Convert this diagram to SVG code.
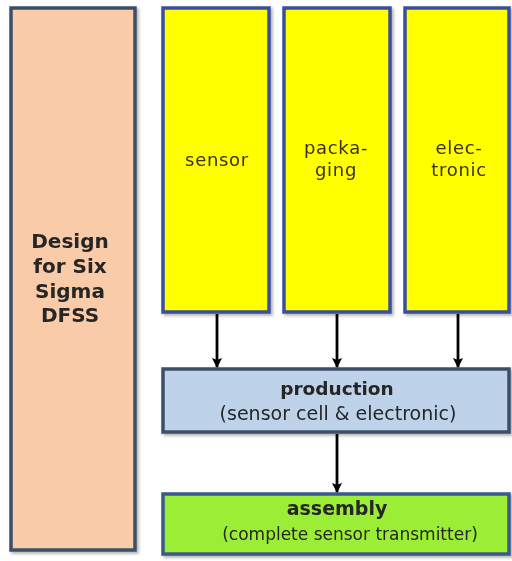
<svg xmlns="http://www.w3.org/2000/svg" width="512" height="561" viewBox="0 0 512 561">
<defs>
<style>
.box{stroke-width:3.5}
.t{font-family:"DejaVu Sans",Verdana,sans-serif;fill:#262626;text-anchor:middle}
.y{font-size:18px;letter-spacing:0.7px;fill:#3a3212}
.b{font-weight:bold}
.c{stroke:#000;stroke-width:2.8;fill:none;marker-end:url(#ah)}
</style>
<marker id="ah" viewBox="0 0 10 10" refX="9" refY="5" markerWidth="3.6" markerHeight="4.4" orient="auto" markerUnits="strokeWidth">
<path d="M0,0 L10,5 L0,10 L2,5 z" fill="#000"/>
</marker>
<filter id="sh" x="-10%" y="-10%" width="130%" height="130%">
<feDropShadow dx="2" dy="2" stdDeviation="1.5" flood-color="#000" flood-opacity="0.3"/>
</filter>
</defs>
<rect width="512" height="561" fill="#fff"/>
<g id="dfss" filter="url(#sh)">
<rect class="box" x="11" y="8" width="124" height="542" fill="#FACBA9" stroke="#3C5068"/>
<text class="t b" x="70" y="248" font-size="20">Design</text>
<text class="t b" x="70" y="273" font-size="20">for Six</text>
<text class="t b" x="70" y="298" font-size="20">Sigma</text>
<text class="t b" x="70" y="322" font-size="20">DFSS</text>
</g>
<g id="sensor" filter="url(#sh)">
<rect class="box" x="163" y="8" width="106" height="304" fill="#FFFF00" stroke="#3A4E9E"/>
<text class="t y" x="217" y="166">sensor</text>
</g>
<g id="packaging" filter="url(#sh)">
<rect class="box" x="284" y="8" width="106" height="304" fill="#FFFF00" stroke="#3A4E9E"/>
<text class="t y" x="336" y="154">packa-</text>
<text class="t y" x="336" y="176">ging</text>
</g>
<g id="electronic" filter="url(#sh)">
<rect class="box" x="405" y="8" width="104" height="304" fill="#FFFF00" stroke="#3A4E9E"/>
<text class="t y" x="459" y="154">elec-</text>
<text class="t y" x="459" y="176">tronic</text>
</g>
<g id="production" filter="url(#sh)">
<rect class="box" x="163" y="369" width="346" height="63" fill="#BED3EA" stroke="#3C5068"/>
<text class="t b" x="337" y="395" font-size="18.5" fill="#333842">production</text>
<text class="t" x="338" y="420" font-size="19" fill="#333842">(sensor cell &amp; electronic)</text>
</g>
<g id="assembly" filter="url(#sh)">
<rect class="box" x="163" y="494" width="346" height="60" fill="#9BEE35" stroke="#3A5A8A"/>
<text class="t b" x="337" y="515" font-size="19" fill="#1f3a1a">assembly</text>
<text class="t" x="350" y="540" font-size="17" fill="#1f3a1a">(complete sensor transmitter)</text>
</g>
<g id="connectors">
<path class="c" d="M217,314 V367"/>
<path class="c" d="M337,314 V367"/>
<path class="c" d="M458,314 V367"/>
<path class="c" d="M337,434 V492"/>
</g>
</svg>
